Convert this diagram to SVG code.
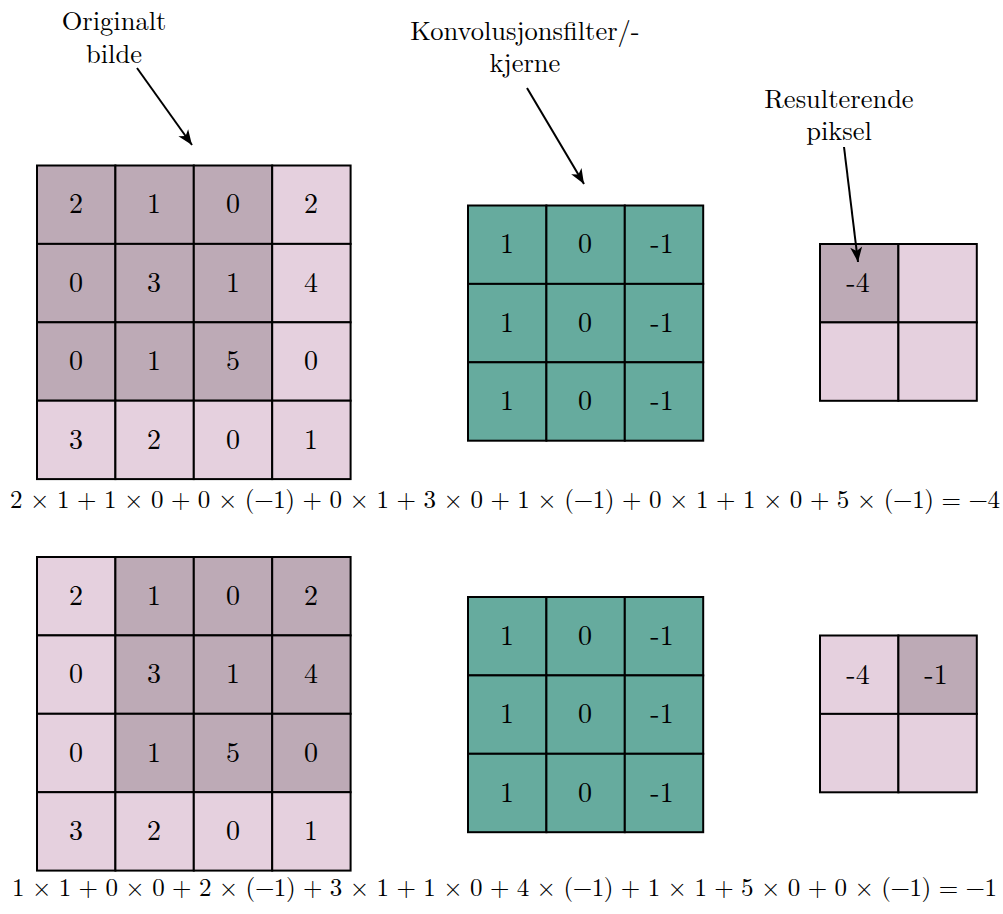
<svg xmlns="http://www.w3.org/2000/svg" width="1003" height="914" viewBox="0 0 1003 914">
<style>
.d{fill:#bdaab6;stroke:#000;stroke-width:2}
.l{fill:#e5d0de;stroke:#000;stroke-width:2}
.k{fill:#66ab9e;stroke:#000;stroke-width:2}
text{fill:#000}
.n{font-size:28px;text-anchor:middle}
.lab{font-size:26.5px;text-anchor:middle}
.eq{font-size:25px}
.ar{stroke:#000;stroke-width:2;fill:none;marker-end:url(#ah)}
</style>
<defs>
<marker id="ah" markerWidth="20" markerHeight="20" refX="10" refY="5" orient="auto" markerUnits="userSpaceOnUse" viewBox="-8 -5 20 20" overflow="visible">
<path d="M-5,-1 L10,5 L-5,11 L-1,5 Z" fill="#000"/>
</marker>
</defs>
<g id="labels" font-family="Latin Modern Roman, Liberation Serif, serif">
<text class="lab" font-family="Latin Modern Roman, Liberation Serif, serif" x="114" y="30">Originalt</text>
<text class="lab" font-family="Latin Modern Roman, Liberation Serif, serif" x="114" y="63">bilde</text>
<text class="lab" font-family="Latin Modern Roman, Liberation Serif, serif" x="525" y="40">Konvolusjonsfilter/-</text>
<text class="lab" font-family="Latin Modern Roman, Liberation Serif, serif" x="525" y="72">kjerne</text>
<text class="lab" font-family="Latin Modern Roman, Liberation Serif, serif" x="839" y="108">Resulterende</text>
<text class="lab" font-family="Latin Modern Roman, Liberation Serif, serif" x="839" y="140">piksel</text>
</g>
<g id="image1" font-family="Latin Modern Roman, Liberation Serif, serif">
<rect class="d" x="37" y="165.5" width="78.4" height="78.4"/><rect class="d" x="115.4" y="165.5" width="78.4" height="78.4"/><rect class="d" x="193.8" y="165.5" width="78.4" height="78.4"/><rect class="l" x="272.2" y="165.5" width="78.4" height="78.4"/>
<rect class="d" x="37" y="243.9" width="78.4" height="78.4"/><rect class="d" x="115.4" y="243.9" width="78.4" height="78.4"/><rect class="d" x="193.8" y="243.9" width="78.4" height="78.4"/><rect class="l" x="272.2" y="243.9" width="78.4" height="78.4"/>
<rect class="d" x="37" y="322.3" width="78.4" height="78.4"/><rect class="d" x="115.4" y="322.3" width="78.4" height="78.4"/><rect class="d" x="193.8" y="322.3" width="78.4" height="78.4"/><rect class="l" x="272.2" y="322.3" width="78.4" height="78.4"/>
<rect class="l" x="37" y="400.7" width="78.4" height="78.4"/><rect class="l" x="115.4" y="400.7" width="78.4" height="78.4"/><rect class="l" x="193.8" y="400.7" width="78.4" height="78.4"/><rect class="l" x="272.2" y="400.7" width="78.4" height="78.4"/>
<text class="n" font-family="Latin Modern Roman, Liberation Serif, serif" x="76" y="213">2</text><text class="n" font-family="Latin Modern Roman, Liberation Serif, serif" x="154" y="213">1</text><text class="n" font-family="Latin Modern Roman, Liberation Serif, serif" x="233" y="213">0</text><text class="n" font-family="Latin Modern Roman, Liberation Serif, serif" x="311" y="213">2</text>
<text class="n" font-family="Latin Modern Roman, Liberation Serif, serif" x="76" y="292">0</text><text class="n" font-family="Latin Modern Roman, Liberation Serif, serif" x="154" y="292">3</text><text class="n" font-family="Latin Modern Roman, Liberation Serif, serif" x="233" y="292">1</text><text class="n" font-family="Latin Modern Roman, Liberation Serif, serif" x="311" y="292">4</text>
<text class="n" font-family="Latin Modern Roman, Liberation Serif, serif" x="76" y="370">0</text><text class="n" font-family="Latin Modern Roman, Liberation Serif, serif" x="154" y="370">1</text><text class="n" font-family="Latin Modern Roman, Liberation Serif, serif" x="233" y="370">5</text><text class="n" font-family="Latin Modern Roman, Liberation Serif, serif" x="311" y="370">0</text>
<text class="n" font-family="Latin Modern Roman, Liberation Serif, serif" x="76" y="449">3</text><text class="n" font-family="Latin Modern Roman, Liberation Serif, serif" x="154" y="449">2</text><text class="n" font-family="Latin Modern Roman, Liberation Serif, serif" x="233" y="449">0</text><text class="n" font-family="Latin Modern Roman, Liberation Serif, serif" x="311" y="449">1</text>
</g>
<g id="kernel1">
<rect class="k" x="468" y="205.5" width="78.4" height="78.4"/><rect class="k" x="546.4" y="205.5" width="78.4" height="78.4"/><rect class="k" x="624.8" y="205.5" width="78.4" height="78.4"/>
<rect class="k" x="468" y="283.9" width="78.4" height="78.4"/><rect class="k" x="546.4" y="283.9" width="78.4" height="78.4"/><rect class="k" x="624.8" y="283.9" width="78.4" height="78.4"/>
<rect class="k" x="468" y="362.3" width="78.4" height="78.4"/><rect class="k" x="546.4" y="362.3" width="78.4" height="78.4"/><rect class="k" x="624.8" y="362.3" width="78.4" height="78.4"/>
<text class="n" font-family="Latin Modern Roman, Liberation Serif, serif" x="507" y="253">1</text><text class="n" font-family="Latin Modern Roman, Liberation Serif, serif" x="585" y="253">0</text><text class="n" font-family="Latin Modern Roman, Liberation Serif, serif" x="662" y="253">-1</text>
<text class="n" font-family="Latin Modern Roman, Liberation Serif, serif" x="507" y="332">1</text><text class="n" font-family="Latin Modern Roman, Liberation Serif, serif" x="585" y="332">0</text><text class="n" font-family="Latin Modern Roman, Liberation Serif, serif" x="662" y="332">-1</text>
<text class="n" font-family="Latin Modern Roman, Liberation Serif, serif" x="507" y="410">1</text><text class="n" font-family="Latin Modern Roman, Liberation Serif, serif" x="585" y="410">0</text><text class="n" font-family="Latin Modern Roman, Liberation Serif, serif" x="662" y="410">-1</text>
</g>
<g id="result1">
<rect class="d" x="820" y="244" width="78.4" height="78.4"/><rect class="l" x="898.4" y="244" width="78.4" height="78.4"/>
<rect class="l" x="820" y="322.4" width="78.4" height="78.4"/><rect class="l" x="898.4" y="322.4" width="78.4" height="78.4"/>
<text class="n" font-family="Latin Modern Roman, Liberation Serif, serif" x="858" y="292">-4</text>
</g>
<text class="eq" font-family="Latin Modern Roman, Liberation Serif, serif" x="10" y="508" textLength="990" lengthAdjust="spacing">2 × 1 + 1 × 0 + 0 × (−1) + 0 × 1 + 3 × 0 + 1 × (−1) + 0 × 1 + 1 × 0 + 5 × (−1) = −4</text>
<g id="image2">
<rect class="l" x="37" y="557" width="78.4" height="78.4"/><rect class="d" x="115.4" y="557" width="78.4" height="78.4"/><rect class="d" x="193.8" y="557" width="78.4" height="78.4"/><rect class="d" x="272.2" y="557" width="78.4" height="78.4"/>
<rect class="l" x="37" y="635.4" width="78.4" height="78.4"/><rect class="d" x="115.4" y="635.4" width="78.4" height="78.4"/><rect class="d" x="193.8" y="635.4" width="78.4" height="78.4"/><rect class="d" x="272.2" y="635.4" width="78.4" height="78.4"/>
<rect class="l" x="37" y="713.8" width="78.4" height="78.4"/><rect class="d" x="115.4" y="713.8" width="78.4" height="78.4"/><rect class="d" x="193.8" y="713.8" width="78.4" height="78.4"/><rect class="d" x="272.2" y="713.8" width="78.4" height="78.4"/>
<rect class="l" x="37" y="792.2" width="78.4" height="78.4"/><rect class="l" x="115.4" y="792.2" width="78.4" height="78.4"/><rect class="l" x="193.8" y="792.2" width="78.4" height="78.4"/><rect class="l" x="272.2" y="792.2" width="78.4" height="78.4"/>
<text class="n" font-family="Latin Modern Roman, Liberation Serif, serif" x="76" y="605">2</text><text class="n" font-family="Latin Modern Roman, Liberation Serif, serif" x="154" y="605">1</text><text class="n" font-family="Latin Modern Roman, Liberation Serif, serif" x="233" y="605">0</text><text class="n" font-family="Latin Modern Roman, Liberation Serif, serif" x="311" y="605">2</text>
<text class="n" font-family="Latin Modern Roman, Liberation Serif, serif" x="76" y="683">0</text><text class="n" font-family="Latin Modern Roman, Liberation Serif, serif" x="154" y="683">3</text><text class="n" font-family="Latin Modern Roman, Liberation Serif, serif" x="233" y="683">1</text><text class="n" font-family="Latin Modern Roman, Liberation Serif, serif" x="311" y="683">4</text>
<text class="n" font-family="Latin Modern Roman, Liberation Serif, serif" x="76" y="762">0</text><text class="n" font-family="Latin Modern Roman, Liberation Serif, serif" x="154" y="762">1</text><text class="n" font-family="Latin Modern Roman, Liberation Serif, serif" x="233" y="762">5</text><text class="n" font-family="Latin Modern Roman, Liberation Serif, serif" x="311" y="762">0</text>
<text class="n" font-family="Latin Modern Roman, Liberation Serif, serif" x="76" y="840">3</text><text class="n" font-family="Latin Modern Roman, Liberation Serif, serif" x="154" y="840">2</text><text class="n" font-family="Latin Modern Roman, Liberation Serif, serif" x="233" y="840">0</text><text class="n" font-family="Latin Modern Roman, Liberation Serif, serif" x="311" y="840">1</text>
</g>
<g id="kernel2">
<rect class="k" x="468" y="597" width="78.4" height="78.4"/><rect class="k" x="546.4" y="597" width="78.4" height="78.4"/><rect class="k" x="624.8" y="597" width="78.4" height="78.4"/>
<rect class="k" x="468" y="675.4" width="78.4" height="78.4"/><rect class="k" x="546.4" y="675.4" width="78.4" height="78.4"/><rect class="k" x="624.8" y="675.4" width="78.4" height="78.4"/>
<rect class="k" x="468" y="753.8" width="78.4" height="78.4"/><rect class="k" x="546.4" y="753.8" width="78.4" height="78.4"/><rect class="k" x="624.8" y="753.8" width="78.4" height="78.4"/>
<text class="n" font-family="Latin Modern Roman, Liberation Serif, serif" x="507" y="645">1</text><text class="n" font-family="Latin Modern Roman, Liberation Serif, serif" x="585" y="645">0</text><text class="n" font-family="Latin Modern Roman, Liberation Serif, serif" x="662" y="645">-1</text>
<text class="n" font-family="Latin Modern Roman, Liberation Serif, serif" x="507" y="723">1</text><text class="n" font-family="Latin Modern Roman, Liberation Serif, serif" x="585" y="723">0</text><text class="n" font-family="Latin Modern Roman, Liberation Serif, serif" x="662" y="723">-1</text>
<text class="n" font-family="Latin Modern Roman, Liberation Serif, serif" x="507" y="802">1</text><text class="n" font-family="Latin Modern Roman, Liberation Serif, serif" x="585" y="802">0</text><text class="n" font-family="Latin Modern Roman, Liberation Serif, serif" x="662" y="802">-1</text>
</g>
<g id="result2">
<rect class="l" x="820" y="635.5" width="78.4" height="78.4"/><rect class="d" x="898.4" y="635.5" width="78.4" height="78.4"/>
<rect class="l" x="820" y="713.9" width="78.4" height="78.4"/><rect class="l" x="898.4" y="713.9" width="78.4" height="78.4"/>
<text class="n" font-family="Latin Modern Roman, Liberation Serif, serif" x="858" y="684">-4</text><text class="n" font-family="Latin Modern Roman, Liberation Serif, serif" x="936" y="684">-1</text>
</g>
<text class="eq" font-family="Latin Modern Roman, Liberation Serif, serif" x="12" y="896" textLength="985" lengthAdjust="spacing">1 × 1 + 0 × 0 + 2 × (−1) + 3 × 1 + 1 × 0 + 4 × (−1) + 1 × 1 + 5 × 0 + 0 × (−1) = −1</text>
<g id="connectors">
<line class="ar" x1="137" y1="68" x2="192" y2="145"/>
<line class="ar" x1="527" y1="88" x2="584" y2="184"/>
<line class="ar" x1="844" y1="147" x2="858" y2="262"/>
</g>
</svg>
